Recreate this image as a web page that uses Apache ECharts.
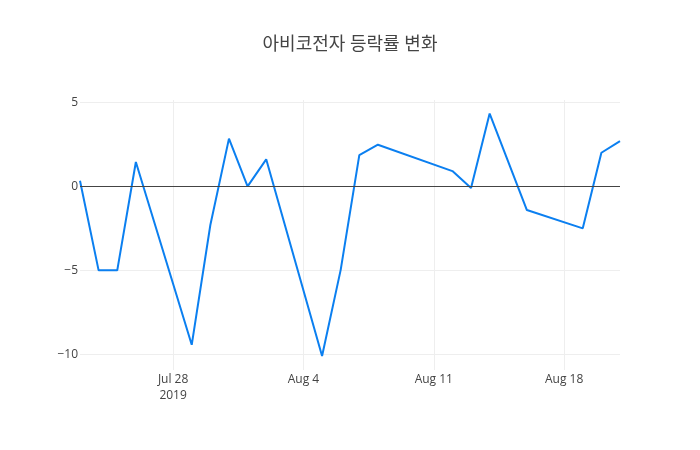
<!DOCTYPE html>
<html>
<head>
<meta charset="utf-8">
<script src="https://cdn.jsdelivr.net/npm/echarts@6/dist/echarts.min.js"></script>
<style>
  html, body { margin: 0; padding: 0; background: #fff; }
  #chart { width: 700px; height: 450px; }
</style>
</head>
<body>
<div id="chart"></div>
<script>
// trading days (2019) and daily change rate (%)
const dates = [
  '2019-07-23', '2019-07-24', '2019-07-25', '2019-07-26',
  '2019-07-29', '2019-07-30', '2019-07-31', '2019-08-01', '2019-08-02',
  '2019-08-05', '2019-08-06', '2019-08-07', '2019-08-08',
  '2019-08-12', '2019-08-13', '2019-08-14', '2019-08-16',
  '2019-08-19', '2019-08-20', '2019-08-21'
];
const changes = [
  0.33, -5.0, -5.0, 1.45,
  -9.43, -2.3, 2.84, 0.0, 1.61,
  -10.1, -4.97, 1.86, 2.48,
  0.91, -0.1, 4.33, -1.41,
  -2.5, 2.0, 2.69
];
const xTicks = ['2019-07-28', '2019-08-04', '2019-08-11', '2019-08-18'];
const yTicks = [-10, -5, 0, 5];
const title = '아비코전자 등락률 변화';

const MONTHS = ['Jan', 'Feb', 'Mar', 'Apr', 'May', 'Jun', 'Jul', 'Aug', 'Sep', 'Oct', 'Nov', 'Dec'];
// dates -> ms timestamps, plotted on a plain value axis
function ts(s) {
  const p = s.split('-');
  return new Date(+p[0], +p[1] - 1, +p[2]).getTime();
}
const xTickVals = xTicks.map(ts);
const points = dates.map((d, i) => [ts(d), changes[i]]);

const chart = echarts.init(document.getElementById('chart'), null, { renderer: 'canvas' });
const font = '"Open Sans", "Noto Sans CJK KR", sans-serif';

chart.setOption({
  backgroundColor: '#fff',
  animation: false,
  title: {
    text: title, left: 'center', top: 31,
    textStyle: { fontFamily: font, fontSize: 18, fontWeight: 'normal', color: '#444' }
  },
  grid: { left: 80, right: 80, top: 100, bottom: 80, containLabel: false },
  xAxis: {
    type: 'value',
    min: ts(dates[0]),
    max: ts(dates[dates.length - 1]),
    axisLine: { show: false },
    axisTick: { show: false, customValues: xTickVals },
    axisLabel: {
      customValues: xTickVals,
      color: '#444', fontFamily: font, fontSize: 12, margin: 2, lineHeight: 16,
      formatter: (v) => {
        const d = new Date(v);
        const s = MONTHS[d.getMonth()] + ' ' + d.getDate();
        return v === xTickVals[0] ? s + '\n' + d.getFullYear() : s;
      }
    },
    splitLine: { show: true, lineStyle: { color: '#eee', width: 1 } }
  },
  yAxis: {
    type: 'value',
    min: -10.93,
    max: 5.14,
    axisLine: { show: false },
    axisTick: { show: false, customValues: yTicks },
    axisLabel: {
      customValues: yTicks,
      color: '#444', fontFamily: font, fontSize: 12, margin: 2,
      formatter: (v) => String(v).replace('-', '\u2212')
    },
    splitLine: { show: true, lineStyle: { color: '#eee', width: 1 } }
  },
  series: [{
    type: 'line',
    data: points,
    showSymbol: false,
    lineStyle: { color: '#0b7ff0', width: 2 },
    itemStyle: { color: '#0b7ff0' },
    markLine: {
      silent: true, symbol: 'none', label: { show: false },
      lineStyle: { color: '#444', width: 1, type: 'solid' },
      data: [{ yAxis: 0 }]
    },
    z: 3
  }]
});
</script>
</body>
</html>
